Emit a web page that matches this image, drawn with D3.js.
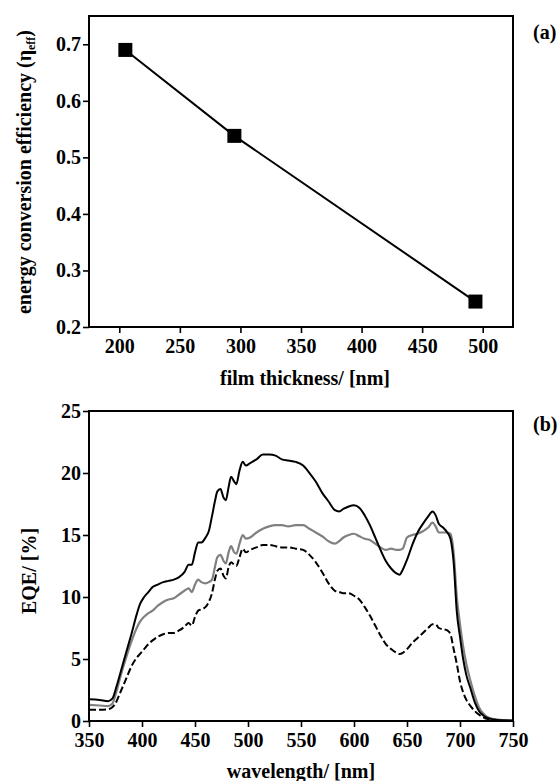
<!DOCTYPE html>
<html>
<head>
<meta charset="utf-8">
<script src="https://cdnjs.cloudflare.com/ajax/libs/d3/7.8.5/d3.min.js"></script>
<style>
  body { margin: 0; background: #fff; }
  svg text { font-family: "Liberation Serif", "Times New Roman", serif; font-weight: bold; fill: #000; }
  .tick line { stroke: #000; stroke-width: 1.6; }
</style>
</head>
<body>
<svg id="chart" width="560" height="781"></svg>
<script>
// panel (a): efficiency vs film thickness
var thickness = [205, 295, 494];
var efficiency = [0.690, 0.538, 0.245];
var thickTicks = [200, 250, 300, 350, 400, 450, 500];
var effTicks = [0.2, 0.3, 0.4, 0.5, 0.6, 0.7];

// panel (b): EQE spectra
var wavelength = [350, 360, 368, 372, 376, 380, 385, 390, 395, 398, 402, 406, 410, 415, 420, 425, 430, 435, 440, 444,
  447, 450, 453, 456, 460, 463, 466, 469, 471, 474, 477, 479, 482, 484, 487, 489, 492, 495, 498, 502,
  508, 514, 520, 526, 532, 538, 545, 552, 558, 564, 570, 576, 582, 586, 590, 595, 600, 605, 610, 615,
  620, 625, 630, 635, 640, 643, 646, 650, 655, 660, 665, 670, 674, 677, 680, 684, 688, 691, 694, 697,
  700, 703, 706, 710, 714, 718, 722, 726, 732, 740, 750];
var eqeBlack = [1.75, 1.7, 1.6, 1.8, 2.8, 4.0, 5.5, 7.0, 8.6, 9.4, 10.0, 10.4, 10.8, 11.0, 11.2, 11.3, 11.4, 11.6, 12.0, 12.6,
  12.6, 13.6, 14.4, 14.4, 14.8, 15.3, 16.5, 17.8, 18.5, 18.7, 18.0, 17.8, 19.0, 19.7, 19.3, 19.1, 20.2, 20.9, 20.6, 20.8,
  21.1, 21.5, 21.5, 21.4, 21.1, 21.0, 20.9, 20.6, 20.0, 19.3, 18.4, 17.7, 17.0, 16.9, 17.1, 17.3, 17.4, 17.2, 16.6, 15.8,
  14.8, 13.8, 12.9, 12.3, 11.9, 11.8, 12.2, 13.0, 14.2, 15.2, 15.9, 16.5, 16.9, 16.6, 15.9, 15.6, 15.2, 14.7, 12.8, 8.8,
  6.8, 5.0, 3.7, 2.6, 1.5, 0.8, 0.45, 0.25, 0.12, 0.06, 0.04];
var eqeGray = [1.3, 1.25, 1.2, 1.4, 2.4, 3.7, 5.1, 6.4, 7.5, 8.0, 8.4, 8.7, 8.9, 9.3, 9.6, 9.8, 9.9, 10.2, 10.5, 10.7,
  10.4, 11.0, 11.4, 11.2, 11.1, 11.2, 11.4, 12.5, 13.2, 13.4, 12.9, 12.7, 13.7, 14.1, 13.6, 13.5, 14.3, 15.0, 14.7, 14.8,
  15.2, 15.5, 15.7, 15.8, 15.8, 15.7, 15.8, 15.8, 15.5, 15.2, 14.9, 14.5, 14.3, 14.5, 14.8, 15.0, 15.1, 14.9, 14.7, 14.6,
  14.3, 14.0, 13.8, 13.9, 13.8, 13.8, 13.9, 14.8, 15.0, 15.1, 15.3, 15.6, 16.0, 15.7, 15.2, 15.2, 15.2, 15.1, 13.6, 10.0,
  7.8, 6.0, 4.6, 3.2, 2.0, 1.1, 0.6, 0.3, 0.15, 0.07, 0.04];
var eqeDashed = [0.9, 0.9, 0.95, 1.1, 1.6, 2.4, 3.4, 4.4, 5.1, 5.4, 5.8, 6.2, 6.5, 6.8, 7.0, 7.1, 7.1, 7.3, 7.6, 7.9,
  7.7, 8.4, 8.9, 9.0, 9.2, 9.6, 10.3, 11.5, 12.1, 12.3, 11.7, 11.5, 12.5, 12.8, 12.6, 12.5, 13.2, 13.9, 13.6, 13.8,
  14.0, 14.2, 14.2, 14.1, 14.0, 14.0, 13.9, 13.8, 13.4, 12.8, 12.0, 11.1, 10.5, 10.4, 10.3, 10.3, 10.1, 9.8, 9.2, 8.5,
  7.7, 6.9, 6.2, 5.8, 5.5, 5.4, 5.5, 5.8, 6.3, 6.7, 7.1, 7.5, 7.8, 7.8, 7.5, 7.4, 7.3, 7.0, 5.8, 4.6,
  3.2, 2.3, 1.7, 1.2, 0.8, 0.5, 0.3, 0.15, 0.07, 0.03, 0.02];
var wlTicks = [350, 400, 450, 500, 550, 600, 650, 700, 750];
var eqeTicks = [0, 5, 10, 15, 20, 25];

var serif = "'Liberation Serif', 'Times New Roman', serif";
var svg = d3.select("#chart");

function frame(x0, y0, x1, y1) {
  svg.append("rect")
    .attr("x", x0).attr("y", y0)
    .attr("width", x1 - x0).attr("height", y1 - y0)
    .attr("fill", "none").attr("stroke", "#000").attr("stroke-width", 2);
}

function axes(x, y, xt, yt, yfmt) {
  var gx = svg.append("g")
    .attr("transform", "translate(0," + y.range()[0] + ")")
    .call(d3.axisBottom(x).tickValues(xt).tickSize(6).tickSizeOuter(0).tickPadding(6).tickFormat(d3.format("d")));
  gx.select(".domain").remove();
  var gy = svg.append("g")
    .attr("transform", "translate(" + x.range()[0] + ",0)")
    .call(d3.axisLeft(y).tickValues(yt).tickSize(6).tickSizeOuter(0).tickPadding(2).tickFormat(yfmt));
  gy.select(".domain").remove();
  [gx, gy].forEach(function(g) {
    g.attr("font-family", serif).attr("font-size", 20).attr("font-weight", "bold");
    g.selectAll("text")
      .style("font-family", serif).style("font-size", "20px").style("font-weight", "bold");
  });
}

// ---- panel (a)
var xa = d3.scaleLinear().domain([175, 525]).range([89, 513]);
var ya = d3.scaleLinear().domain([0.2, 0.75]).range([327, 16]);
axes(xa, ya, thickTicks, effTicks, d3.format(".1f"));

var ptsA = thickness.map(function(d, i) { return [d, efficiency[i]]; });
svg.append("path")
  .datum(ptsA)
  .attr("fill", "none").attr("stroke", "#000").attr("stroke-width", 2)
  .attr("d", d3.line().x(function(d) { return xa(d[0]); }).y(function(d) { return ya(d[1]); }));
svg.selectAll(".sq")
  .data(ptsA).enter().append("rect")
  .attr("class", "sq")
  .attr("x", function(d) { return xa(d[0]) - 7; })
  .attr("y", function(d) { return ya(d[1]) - 7; })
  .attr("width", 14).attr("height", 14)
  .attr("fill", "#000");
frame(89, 16, 513, 327);

svg.append("text").attr("x", 305).attr("y", 385).attr("text-anchor", "middle")
  .attr("font-size", 20).text("film thickness/ [nm]");
var ylabA = svg.append("text")
  .attr("transform", "translate(31,172) rotate(-90)")
  .attr("text-anchor", "middle").attr("font-size", 20);
ylabA.append("tspan").text("energy conversion efficiency (\u03b7");
ylabA.append("tspan").attr("font-size", 12).attr("dy", 4).text("eff");
ylabA.append("tspan").attr("dy", -4).text(")");
svg.append("text").attr("x", 533).attr("y", 39).attr("font-size", 20).text("(a)");

// ---- panel (b)
var xb = d3.scaleLinear().domain([350, 750]).range([89, 513]);
var yb = d3.scaleLinear().domain([0, 25]).range([721, 411]);
axes(xb, yb, wlTicks, eqeTicks, d3.format("d"));

var lineB = d3.line().curve(d3.curveMonotoneX)
  .x(function(d) { return xb(d[0]); }).y(function(d) { return yb(d[1]); });
function series(vals) { return wavelength.map(function(w, i) { return [w, vals[i]]; }); }

svg.append("path").datum(series(eqeDashed))
  .attr("fill", "none").attr("stroke", "#000").attr("stroke-width", 2)
  .attr("stroke-dasharray", "7,3").attr("d", lineB);
svg.append("path").datum(series(eqeGray))
  .attr("fill", "none").attr("stroke", "#808080").attr("stroke-width", 2.2).attr("d", lineB);
svg.append("path").datum(series(eqeBlack))
  .attr("fill", "none").attr("stroke", "#000").attr("stroke-width", 2).attr("d", lineB);
frame(89, 411, 513, 721);

svg.append("text").attr("x", 301).attr("y", 778).attr("text-anchor", "middle")
  .attr("font-size", 20).text("wavelength/ [nm]");
svg.append("text").attr("transform", "translate(36,571) rotate(-90)")
  .attr("text-anchor", "middle").attr("font-size", 20).text("EQE/ [%]");
svg.append("text").attr("x", 533).attr("y", 431).attr("font-size", 20).text("(b)");
</script>
</body>
</html>
